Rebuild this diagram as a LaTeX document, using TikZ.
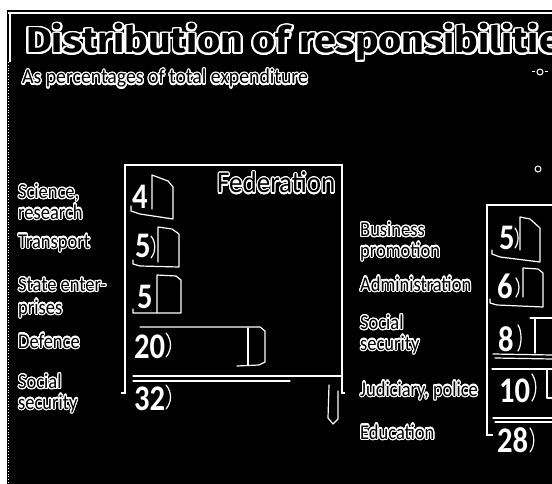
\documentclass[tikz,border=0pt]{standalone}
\usepackage{fontspec}
\setmainfont{Carlito}
\newfontfamily\titlefont{Fira Sans}
\usepackage[copies]{contour}
\contourlength{1.2pt}
\contournumber{24}
\newcommand{\ot}[1]{\scalebox{0.88}[1]{\contour{white}{#1}}}
\newcommand{\nm}[1]{\scalebox{0.85}[1]{#1}}
\tikzset{
  lbl/.style={anchor=base west, inner sep=0pt, text=black, align=left,
    font=\fontsize{21}{20.5}\selectfont},
  num/.style={anchor=base west, inner sep=0pt, text=white,
    font=\bfseries\fontsize{36}{36}\selectfont},
  bar/.style={draw=white, line width=1.2pt, line join=round, line cap=round},
  frame/.style={draw=white, line width=1.3pt},
}
\begin{document}
\begin{tikzpicture}[x=1pt,y=-1pt]
\useasboundingbox (0,0) rectangle (552,484);
\fill[white] (0,0) rectangle (552,484);
\fill[black] (7,10) rectangle (552,484);
\clip (0,0) rectangle (552,484);
\draw[white, line width=1.6pt] (8,13) -- (552,13);
\draw[white, line width=1.2pt] (10,13) -- (10,62);
\draw[white, line width=0.8pt, dotted] (8,62) -- (8,484);
% title
\node[anchor=base west, inner sep=0pt, text=black] (title) at (26,53)
  {\titlefont\bfseries\fontsize{36}{36}\selectfont\contourlength{1.7pt}\scalebox{1.1}[1]{\contour{white}{Distribution of responsibilitie}}};
\node[lbl] (sub) at (22,84) {\scalebox{1.07}[1]{\ot{As percentages of total expenditure}}};
% noise marks
\draw[white, line width=1pt] (540,72) circle (3);
\draw[white, line width=1pt] (532,72) -- (535,72) (545,72) -- (548,72);
\draw[white, line width=1pt] (538,169) circle (3);
% Federation box
\draw[frame] (121,393) -- (125,393) -- (125,165) -- (342,165) -- (342,393) -- (345,393);
\node[anchor=base west, inner sep=0pt, text=black, font=\fontsize{30}{30}\selectfont] (fed) at (217,193) {\scalebox{0.9}[1]{\contour{white}{Federation}}};
% left labels (base = last line)
\node[lbl] (sci) at (18,219) {\ot{Science,}\\\ot{research}};
\node[lbl] (tra) at (18,248) {\ot{Transport}};
\node[lbl] (ste) at (18,314) {\ot{State enter-}\\[2pt]\ot{prises}};
\node[lbl] (def) at (18,348) {\ot{Defence}};
\node[lbl] (soc) at (18,409) {\ot{Social}\\\ot{security}};
% left bars
\draw[bar] (131,206) -- (131,211) -- (140,214) -- (173,219) -- (173,187) -- (168,181) -- (152,175) -- (152,209);
\node[num] (n4) at (132,208) {\nm{4}};
\draw[bar] (158,262) -- (158,227) -- (172,229) -- (179,234) -- (179,267) -- (140,266) -- (133,264) -- (133,260);
\node[num] (n5a) at (135,258) {\nm{5}};
\draw[bar] (151,236) .. controls (156,242) and (156,252) .. (151,258);
\draw[bar] (157,312) -- (157,275) -- (176,276) -- (181,280) -- (181,313) -- (133,313) -- (133,309);
\node[num] (n5b) at (137,308) {\nm{5}};
\draw[bar] (140,327) -- (260,327) -- (265,331) -- (265,362) -- (259,365) -- (237,366);
\draw[bar] (248,328) -- (248,365);
\node[num] (n20) at (134,358) {\nm{20}};
\draw[bar] (166,333) .. controls (172,340) and (172,350) .. (166,357);
\draw[bar] (133,376) -- (342,376);
\draw[bar] (133,381) -- (290,381);
\draw[bar] (329,385) -- (328,418) -- (333,424) -- (338,419) -- (338,391);
\node[num] (n32) at (134,410) {\nm{32}};
\draw[bar] (166,385) .. controls (172,392) and (172,402) .. (166,409);
% right box
\draw[frame] (493,435) -- (487,435) -- (487,205) -- (552,205);
% right labels
\node[lbl] (bus) at (360,257) {\ot{Business}\\\ot{promotion}};
\node[lbl] (adm) at (360,291) {\ot{Administration}};
\node[lbl] (soc2) at (360,350) {\ot{Social}\\\ot{security}};
\node[lbl] (jud) at (360,396) {\ot{Judiciary, police}};
\node[lbl] (edu) at (360,439) {\ot{Education}};
% right bars
\draw[bar] (520,250) -- (520,217) -- (530,219) -- (540,228) -- (540,262) -- (500,257) -- (492,254) -- (492,250);
\node[num] (r5) at (499,250) {\nm{5}};
\draw[bar] (515,228) .. controls (519,233) and (519,243) .. (515,248);
\draw[bar] (523,297) -- (523,268) -- (538,269) -- (543,273) -- (543,307) -- (497,305) -- (490,303) -- (490,299);
\node[num] (r6) at (497,298) {\nm{6}};
\draw[bar] (516,278) .. controls (520,283) and (520,292) .. (516,297);
\draw[bar] (530,318) -- (552,318);
\draw[bar] (535,318) -- (535,353);
\draw[bar] (493,354) -- (552,355);
\draw[bar] (495,358) -- (552,359);
\node[num] (r8) at (498,351) {\nm{8}};
\draw[bar] (518,325) .. controls (522,331) and (522,345) .. (518,351);
\draw[bar] (492,369) -- (552,369);
\draw[bar] (547,370) -- (547,398) -- (552,398);
\node[num] (r10) at (499,402) {\nm{10}};
\draw[bar] (532,374) .. controls (537,381) and (537,394) .. (532,401);
\draw[bar] (493,418) -- (552,418);
\draw[bar] (495,422) -- (552,422);
\node[num] (r28) at (497,452) {\nm{28}};
\draw[bar] (530,428) .. controls (535,435) and (535,446) .. (530,452);
\end{tikzpicture}
\end{document}
